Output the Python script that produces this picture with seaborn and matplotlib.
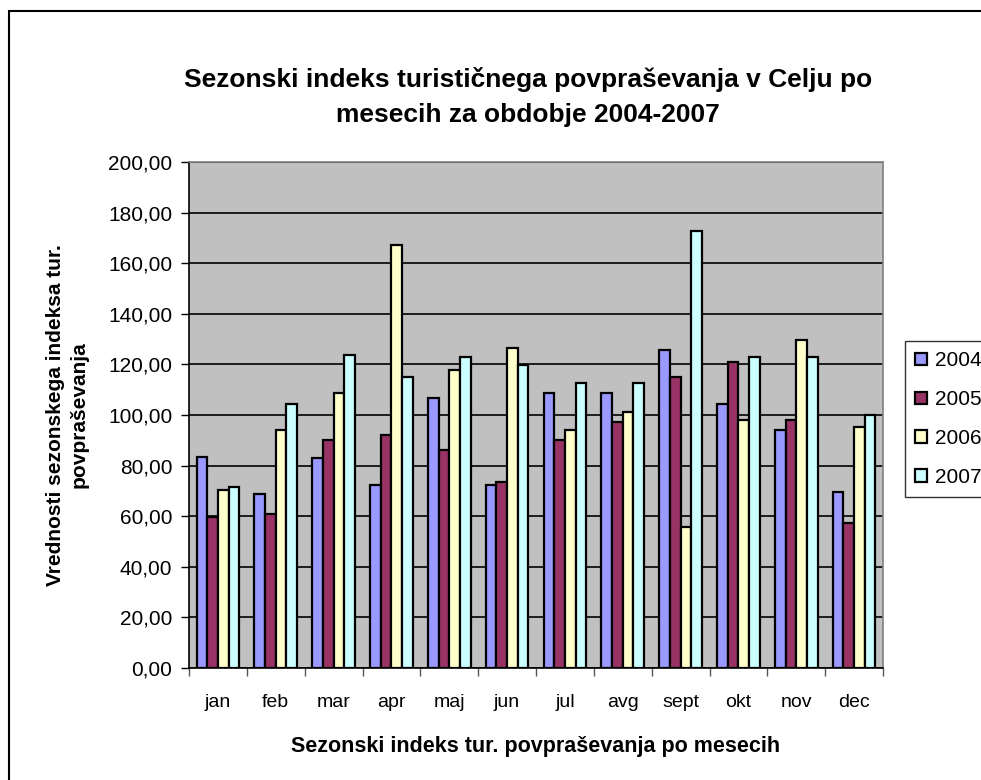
import seaborn as sns
import matplotlib.pyplot as plt
import matplotlib.patches as mpatches
from matplotlib.ticker import FuncFormatter, FixedLocator
import pandas as pd

meseci = ['jan', 'feb', 'mar', 'apr', 'maj', 'jun', 'jul', 'avg', 'sept', 'okt', 'nov', 'dec']
leta = ['2004', '2005', '2006', '2007']
v2004 = [83.5, 68.7, 82.9, 72.5, 106.9, 72.5, 108.5, 108.5, 125.5, 104.5, 94.1, 69.5]
v2005 = [59.8, 60.7, 90.1, 91.9, 86.0, 73.5, 90.1, 97.3, 115.1, 120.8, 98.1, 57.3]
v2006 = [70.3, 94.1, 108.5, 167.1, 117.6, 126.3, 94.1, 101.3, 55.7, 98.1, 129.5, 95.1]
v2007 = [71.7, 104.5, 123.9, 115.1, 123.1, 119.9, 112.5, 112.5, 172.8, 123.1, 123.1, 100.0]
barve = ['#9999FF', '#993366', '#FFFFCC', '#CCFFFF']

# long-form tabela za seaborn
vrednosti = [v2004, v2005, v2006, v2007]
vrstice = []
for leto, serija in zip(leta, vrednosti):
    for mesec, v in zip(meseci, serija):
        vrstice.append({'mesec': mesec, 'leto': leto, 'vrednost': v})
df = pd.DataFrame(vrstice)

sns.set_style('white')
plt.rcParams['font.family'] = ['Liberation Sans', 'DejaVu Sans']
plt.rcParams['text.color'] = 'black'
plt.rcParams['axes.labelcolor'] = 'black'
plt.rcParams['xtick.color'] = 'black'
plt.rcParams['ytick.color'] = 'black'

fig = plt.figure(figsize=(9.81, 7.8), dpi=100)
ax = fig.add_axes([189 / 981, 1 - 668 / 780, (883 - 189) / 981, (668 - 162) / 780])
ax.set_facecolor('#C0C0C0')

sns.barplot(data=df, x='mesec', y='vrednost', hue='leto', order=meseci, hue_order=leta,
            palette=barve, width=0.74, edgecolor='black', linewidth=1.6,
            saturation=1, ax=ax, zorder=3)

ax.set_ylim(0, 200)
ax.set_xlim(-0.5, 11.5)
ax.set_yticks(range(0, 201, 20))
ax.yaxis.set_major_formatter(FuncFormatter(lambda v, p: f'{v:.2f}'.replace('.', ',')))
ax.grid(axis='y', color='black', linewidth=1.2, zorder=1)
ax.set_axisbelow(True)

# tick oznake med skupinami
ax.xaxis.set_minor_locator(FixedLocator([i - 0.5 for i in range(13)]))
ax.tick_params(axis='x', which='major', length=0, pad=19, labelsize=14)
ax.tick_params(axis='x', which='minor', length=6, width=1, color='#555555', bottom=True)
ax.tick_params(axis='y', length=6, width=1, color='black', left=True, labelsize=15, pad=6)

for s in ['top', 'right']:
    ax.spines[s].set_color('#808080')
    ax.spines[s].set_linewidth(1.2)
for s in ['left', 'bottom']:
    ax.spines[s].set_color('black')
    ax.spines[s].set_linewidth(1.2)

ax.set_xlabel('Sezonski indeks tur. povpraševanja po mesecih', fontsize=15.5,
              fontweight='bold', labelpad=18)
ax.set_ylabel('Vrednosti sezonskega indeksa tur.\npovpraševanja', fontsize=15,
              fontweight='bold', labelpad=14, linespacing=1.3)

fig.text(0.538, 1 - 80 / 780, 'Sezonski indeks turističnega povpraševanja v Celju po',
         ha='center', va='center', fontsize=19, fontweight='bold')
fig.text(0.538, 1 - 115 / 780, 'mesecih za obdobje 2004-2007',
         ha='center', va='center', fontsize=19, fontweight='bold')

leg = ax.legend(loc='upper left', bbox_to_anchor=(905 / 981, 1 - 341 / 780),
                bbox_transform=fig.transFigure, frameon=True, fancybox=False,
                edgecolor='black', fontsize=15, handlelength=0.55, handleheight=0.55,
                handletextpad=0.4, labelspacing=0.95, borderpad=0.5, borderaxespad=0,
                title=None)
leg.get_frame().set_linewidth(1.0)

# okvir okoli celotnega grafa
fig.patches.append(mpatches.Rectangle((9 / 981, -0.05), 1.1, 1 - 11 / 780 + 0.05,
                                      transform=fig.transFigure, fill=False,
                                      edgecolor='black', linewidth=1.5))

fig.savefig('out.png', dpi=100)
